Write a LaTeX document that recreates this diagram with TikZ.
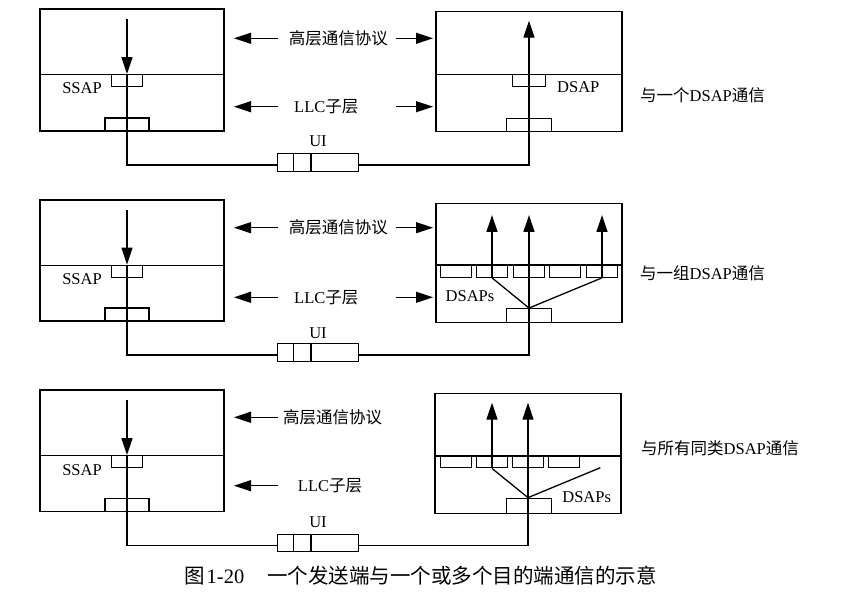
\documentclass[tikz,border=0pt]{standalone}
\usepackage{fontspec}
\setmainfont{Liberation Serif}
\newfontfamily\cjk{Noto Sans CJK SC}
\usetikzlibrary{arrows.meta,positioning}
\tikzset{
  hostbox/.style={draw, line width=1.3pt, inner sep=0pt},
  sapbox/.style={draw, line width=1.3pt, inner sep=0pt, minimum width=31pt, minimum height=12pt},
  macbox/.style={draw, line width=1.3pt, inner sep=0pt, minimum width=44pt, minimum height=13pt},
  uibox/.style={draw, line width=1.3pt, inner sep=0pt, minimum width=81pt, minimum height=17.5pt},
  wireln/.style={line width=1.3pt},
  arrln/.style={-{Triangle[length=17pt,width=11pt]}, line width=1.3pt},
  lbl/.style={font=\fontsize{16.5}{18}\selectfont, inner sep=0pt},
  sidelbl/.style={lbl, anchor=west},
  capl/.style={font=\fontsize{20.5}{22}\selectfont, inner sep=0pt, anchor=west},
}
\begin{document}
\begin{tikzpicture}[x=1pt, y=-1pt]
    \useasboundingbox (0,0) rectangle (847,596);
    % arrow columns between the two stations
    \coordinate (tailL) at (278,0);
    \coordinate (tipL) at (234,0);
    \coordinate (tailR) at (396,0);
    \coordinate (tipR) at (433,0);
    % ---- panel 1: one DSAP
    \node[hostbox, minimum width=184pt, minimum height=122pt] (src1) at (132,70) {};
    \draw[wireln] (src1.west |- 0,74.7) -- (src1.east |- 0,74.7);
    \node[sapbox] (ss1) at (127,80.7) {};
    \node[macbox] (ms1) at (127,124.5) {};
    \node[lbl] (ssapl1) at (82,87.7) {SSAP};
    \coordinate (in1) at (127,19);
    \node[hostbox, minimum width=186pt, minimum height=120pt] (dst1) at (529,71.7) {};
    \draw[wireln] (dst1.west |- 0,74.3) -- (dst1.east |- 0,74.3);
    \node[sapbox, minimum width=33pt] (ds1) at (529,80.6) {};
    \node[macbox, minimum width=45pt] (md1) at (529,125) {};
    \node[lbl] (dsapl1) at (578.3,87.3) {DSAP};
    \coordinate (out1) at (529,20.7);
    \node[uibox] (ui1) at (318,162.5) {};
    \draw[wireln] ([xshift=16.6pt]ui1.north west) -- ([xshift=16.6pt]ui1.south west);
    \draw[wireln] ([xshift=34pt]ui1.north west) -- ([xshift=34pt]ui1.south west);
    \node[lbl, above=6pt of ui1] (uil1) {UI};
    \node[lbl] (hl1) at (338.3,38.3) {\cjk 高层通信协议};
    \node[lbl] (llc1) at (326.3,106.7) {LLC{\cjk 子层}};
    \draw[arrln] (tailL |- hl1) -- (tipL |- hl1);
    \draw[arrln] (tailR |- hl1) -- (tipR |- hl1);
    \draw[arrln] (tailL |- llc1) -- (tipL |- llc1);
    \draw[arrln] (tailR |- llc1) -- (tipR |- llc1);
    \draw[arrln] (in1) -- (ss1.north);
    \draw[wireln] (ss1.north) |- ([yshift=-2.5pt]ui1.west);
    \draw[arrln] ([yshift=-2.5pt]ui1.east) -| (out1);
    \node[sidelbl] (side1) at (640,95) {{\cjk 与一个}DSAP{\cjk 通信}};
    % ---- panel 2: a group of DSAPs
    \node[hostbox, minimum width=184pt, minimum height=121pt] (src2) at (132,260.5) {};
    \draw[wireln] (src2.west |- 0,265.3) -- (src2.east |- 0,265.3);
    \node[sapbox] (ss2) at (127,271.3) {};
    \node[macbox] (ms2) at (127,314.5) {};
    \node[lbl] (ssapl2) at (82,279.3) {SSAP};
    \coordinate (in2) at (127,210);
    \node[hostbox, minimum width=186pt, minimum height=119.4pt] (dst2) at (529,263) {};
    \draw[wireln] (dst2.west |- 0,265) -- (dst2.east |- 0,265);
    \foreach \i/\x in {1/456,2/492,3/529,4/565,5/602}
      \node[sapbox] (g\i) at (\x,271.2) {};
    \node[macbox, minimum width=45pt, minimum height=14pt] (md2) at (529,315.7) {};
    \node[lbl] (dsapl2) at (470,296) {DSAPs};
    \coordinate (out2) at (529,215);
    \node[uibox] (ui2) at (318,352.5) {};
    \draw[wireln] ([xshift=16.6pt]ui2.north west) -- ([xshift=16.6pt]ui2.south west);
    \draw[wireln] ([xshift=34pt]ui2.north west) -- ([xshift=34pt]ui2.south west);
    \node[lbl, above=4pt of ui2] (uil2) {UI};
    \node[lbl] (hl2) at (338.3,227.7) {\cjk 高层通信协议};
    \node[lbl] (llc2) at (326.3,297.3) {LLC{\cjk 子层}};
    \draw[arrln] (tailL |- hl2) -- (tipL |- hl2);
    \draw[arrln] (tailR |- hl2) -- (tipR |- hl2);
    \draw[arrln] (tailL |- llc2) -- (tipL |- llc2);
    \draw[arrln] (tailR |- llc2) -- (tipR |- llc2);
    \draw[arrln] (in2) -- (ss2.north);
    \draw[wireln] (ss2.north) |- ([yshift=-2.5pt]ui2.west);
    \draw[arrln] ([yshift=-2.5pt]ui2.east) -| (out2);
    \draw[wireln] (md2.north) -- (g2.south);
    \draw[wireln] (md2.north) -- (g5.south);
    \draw[arrln] (g2.south) -- (g2.south |- out2);
    \draw[arrln] (g5.south) -- (g5.south |- out2);
    \node[sidelbl] (side2) at (640,273.3) {{\cjk 与一组}DSAP{\cjk 通信}};
    % ---- panel 3: all DSAPs of a kind
    \node[hostbox, minimum width=184pt, minimum height=121.7pt] (src3) at (132,450.8) {};
    \draw[wireln] (src3.west |- 0,455.7) -- (src3.east |- 0,455.7);
    \node[sapbox] (ss3) at (127,461.7) {};
    \node[macbox] (ms3) at (127,505.2) {};
    \node[lbl] (ssapl3) at (82,470) {SSAP};
    \coordinate (in3) at (127,400);
    \node[hostbox, minimum width=186pt, minimum height=120pt] (dst3) at (528,453.3) {};
    \draw[wireln] (dst3.west |- 0,456) -- (dst3.east |- 0,456);
    \foreach \i/\x in {1/456,2/492,3/528,4/564}
      \node[sapbox] (h\i) at (\x,461.8) {};
    \node[macbox, minimum width=45pt, minimum height=15pt] (md3) at (529,505.8) {};
    \node[lbl] (dsapl3) at (586.7,496.7) {DSAPs};
    \coordinate (out3) at (528,402.7);
    \coordinate (fan3) at (600.3,467.7);
    \node[uibox] (ui3) at (318,543) {};
    \draw[wireln] ([xshift=16.6pt]ui3.north west) -- ([xshift=16.6pt]ui3.south west);
    \draw[wireln] ([xshift=34pt]ui3.north west) -- ([xshift=34pt]ui3.south west);
    \node[lbl, above=6pt of ui3] (uil3) {UI};
    \node[lbl] (hl3) at (332.5,417.3) {\cjk 高层通信协议};
    \node[lbl] (llc3) at (330,485.7) {LLC{\cjk 子层}};
    \draw[arrln] (tailL |- hl3) -- (tipL |- hl3);
    \draw[arrln] (tailL |- llc3) -- (tipL |- llc3);
    \draw[arrln] (in3) -- (ss3.north);
    \draw[wireln] (ss3.north) |- ([yshift=-2.5pt]ui3.west);
    \draw[arrln] ([yshift=-2.5pt]ui3.east) -| (out3);
    \draw[wireln] (md3.north -| out3) -- (h2.south);
    \draw[wireln] (md3.north -| out3) -- (fan3);
    \draw[arrln] (h2.south) -- (h2.south |- out3);
    \node[sidelbl] (side3) at (641,448.3) {{\cjk 与所有同类}DSAP{\cjk 通信}};
    % caption
    \node[capl] (figcap) at (184,576) {{\cjk 图}\hspace{2pt}1-20\hspace{23pt}{\cjk 一个发送端与一个或多个目的端通信的示意}};
\end{tikzpicture}
\end{document}
